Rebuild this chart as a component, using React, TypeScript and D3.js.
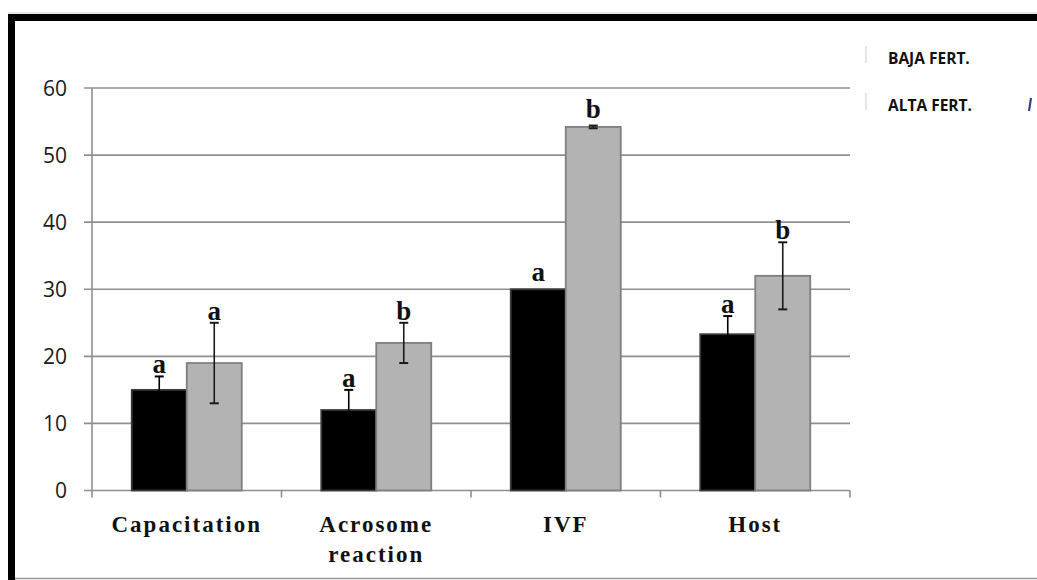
import React, { useEffect, useRef } from 'react'
import * as d3 from 'd3'

// data
const categories = ['Capacitation', 'Acrosome reaction', 'IVF', 'Host']
const categoryLines = [['Capacitation'], ['Acrosome', 'reaction'], ['IVF'], ['Host']]
const series = ['BAJA FERT.', 'ALTA FERT.']
const bajaValues = [15, 12, 30, 23.3]
const altaValues = [19, 22, 54.2, 32]
const bajaErrors = [2, 3, 0, 2.7]
const altaErrors = [6, 3, 0.2, 5]
const bajaLetters = ['a', 'a', 'a', 'a']
const altaLetters = ['a', 'b', 'b', 'b']
const yTicks = [0, 10, 20, 30, 40, 50, 60]

const seriesColors = ['#000000', '#b3b3b3']
const seriesStrokes = ['#3a3a3a', '#7f7f7f']
const errorColors = ['#000000', '#1a1a1a']

export default function App() {
  const svgRef = useRef<SVGSVGElement>(null)

  useEffect(() => {
    const w = 1037
    const h = 580
    const margin = { top: 88, right: 187, bottom: 89, left: 92 }

    const svg = d3.select(svgRef.current)
    svg.selectAll('*').remove()
    svg.attr('width', w).attr('height', h)

    svg.append('rect').attr('width', w).attr('height', h).attr('fill', '#fff')

    // frame around the slide
    svg.append('line').attr('x1', 8).attr('x2', w).attr('y1', 13).attr('y2', 13).attr('stroke', '#d0d0d0').attr('stroke-width', 1)
    svg.append('rect').attr('x', 8).attr('y', 14).attr('width', w - 8).attr('height', 7).attr('fill', '#000')
    svg.append('rect').attr('x', 8).attr('y', 14).attr('width', 7).attr('height', h - 14).attr('fill', '#000')
    svg.append('line').attr('x1', 15).attr('x2', w).attr('y1', 578.5).attr('y2', 578.5).attr('stroke', '#999').attr('stroke-width', 1.5)

    const x0 = d3.scaleBand().domain(categories).range([margin.left, w - margin.right]).padding(0)
    const x1 = d3.scaleBand().domain(series).range([0, x0.bandwidth()]).paddingInner(0).paddingOuter(0.7227)
    const y = d3.scaleLinear().domain([0, 60]).range([h - margin.bottom - 0.5, margin.top])

    const g = svg.append('g')

    // gridlines + left ticks
    g.selectAll('.grid').data(yTicks).join('line')
      .attr('x1', margin.left - 8).attr('x2', w - margin.right)
      .attr('y1', d => y(d)).attr('y2', d => y(d))
      .attr('stroke', '#8f8f8f').attr('stroke-width', 1.6)

    // y axis line
    g.append('line').attr('x1', margin.left).attr('x2', margin.left)
      .attr('y1', y(60)).attr('y2', y(0) + 7)
      .attr('stroke', '#8f8f8f').attr('stroke-width', 1.6)

    // category ticks on x axis
    const boundaries = categories.map(c => (x0(c) as number) + x0.bandwidth())
    g.selectAll('.xtick').data(boundaries).join('line')
      .attr('x1', d => d).attr('x2', d => d)
      .attr('y1', y(0)).attr('y2', y(0) + 7)
      .attr('stroke', '#8f8f8f').attr('stroke-width', 1.6)

    // y tick labels
    g.selectAll('.ylab').data(yTicks).join('text')
      .attr('x', 67).attr('y', d => y(d))
      .attr('dy', '0.36em')
      .attr('text-anchor', 'end')
      .attr('font-family', '"Open Sans", sans-serif')
      .attr('font-size', 21)
      .attr('fill', '#1a1a1a')
      .text(d => d)

    const allValues = [bajaValues, altaValues]
    const allErrors = [bajaErrors, altaErrors]
    const allLetters = [bajaLetters, altaLetters]

    series.forEach((s, si) => {
      const rows = categories.map((c, i) => ({
        c, v: allValues[si][i], e: allErrors[si][i], l: allLetters[si][i]
      }))
      const sg = g.append('g')
      const bx = (d: any) => (x0(d.c) as number) + (x1(s) as number)

      sg.selectAll('rect').data(rows).join('rect')
        .attr('x', d => bx(d)).attr('y', d => y(d.v))
        .attr('width', x1.bandwidth()).attr('height', d => y(0) - y(d.v))
        .attr('fill', seriesColors[si])
        .attr('stroke', seriesStrokes[si]).attr('stroke-width', 1.8)

      const cx = (d: any) => bx(d) + x1.bandwidth() / 2
      const withErr = rows.filter(d => d.e > 0)
      sg.selectAll('.err').data(withErr).join('line')
        .attr('x1', cx).attr('x2', cx)
        .attr('y1', d => y(d.v + d.e)).attr('y2', d => y(d.v - d.e))
        .attr('stroke', errorColors[si]).attr('stroke-width', 1.6)
      sg.selectAll('.capTop').data(withErr).join('line')
        .attr('x1', d => cx(d) - 4.5).attr('x2', d => cx(d) + 4.5)
        .attr('y1', d => y(d.v + d.e)).attr('y2', d => y(d.v + d.e))
        .attr('stroke', errorColors[si]).attr('stroke-width', 2)
      sg.selectAll('.capBot').data(withErr).join('line')
        .attr('x1', d => cx(d) - 4.5).attr('x2', d => cx(d) + 4.5)
        .attr('y1', d => y(d.v - d.e)).attr('y2', d => y(d.v - d.e))
        .attr('stroke', errorColors[si]).attr('stroke-width', 2)

      sg.selectAll('.sig').data(rows).join('text')
        .attr('x', cx)
        .attr('y', d => y(d.v + d.e) - (d.e > 0.5 ? 3 : 8))
        .attr('text-anchor', 'middle')
        .attr('font-family', '"Liberation Serif", serif')
        .attr('font-weight', 'bold')
        .attr('font-size', 27)
        .attr('fill', '#111')
        .text(d => d.l)
    })

    // category labels
    categories.forEach((c, i) => {
      const t = g.append('text')
        .attr('x', (x0(c) as number) + x0.bandwidth() / 2)
        .attr('y', 532)
        .attr('text-anchor', 'middle')
        .attr('font-family', '"Liberation Serif", serif')
        .attr('font-weight', 'bold')
        .attr('font-size', 23)
        .attr('letter-spacing', 2)
        .attr('fill', '#111')
      categoryLines[i].forEach((line, li) => {
        t.append('tspan')
          .attr('x', (x0(c) as number) + x0.bandwidth() / 2)
          .attr('dy', li === 0 ? 0 : 30)
          .text(line)
      })
    })

    // legend (markers clipped off in the original)
    const legendY = [64, 111]
    series.forEach((s, si) => {
      svg.append('line').attr('x1', 866).attr('x2', 866)
        .attr('y1', legendY[si] - 18).attr('y2', legendY[si] - 1)
        .attr('stroke', '#dcdcdc').attr('stroke-width', 1.5)
      svg.append('text')
        .attr('x', 888).attr('y', legendY[si])
        .attr('font-family', '"Open Sans", sans-serif')
        .attr('font-weight', 'bold')
        .attr('font-size', 15.5)
        .attr('fill', '#111')
        .text(s)
    })
    svg.append('line').attr('x1', 1031).attr('x2', 1029).attr('y1', 98).attr('y2', 111)
      .attr('stroke', '#2a3a7a').attr('stroke-width', 2)
  }, [])

  return (
    <div style={{ position: 'absolute', left: 0, top: 0 }}>
      <svg ref={svgRef} style={{ display: 'block' }}></svg>
    </div>
  )
}
